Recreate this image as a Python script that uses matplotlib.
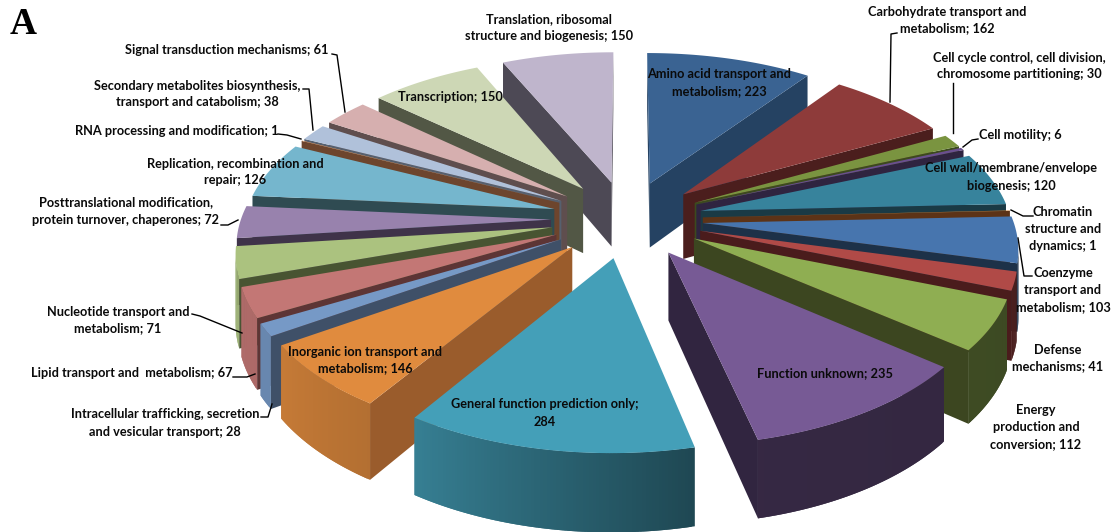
import numpy as np
import matplotlib
matplotlib.use("Agg")
import matplotlib.pyplot as plt
from matplotlib.patches import Polygon

# COG functional categories, clockwise from twelve o'clock
categories = [
    "Amino acid transport and\nmetabolism", "Carbohydrate transport and\nmetabolism",
    "Cell cycle control, cell division,\nchromosome partitioning", "Cell motility",
    "Cell wall/membrane/envelope\nbiogenesis", "Chromatin\nstructure and\ndynamics",
    "Coenzyme\ntransport and\nmetabolism", "Defense\nmechanisms",
    "Energy\nproduction and\nconversion", "Function unknown",
    "General function prediction only;\n", "Inorganic ion transport and\nmetabolism",
    "Intracellular trafficking, secretion\nand vesicular transport", "Lipid transport and  metabolism",
    "Nucleotide transport and\nmetabolism", "Posttranslational modification,\nprotein turnover, chaperones",
    "Replication, recombination and\nrepair", "RNA processing and modification",
    "Secondary metabolites biosynthesis,\ntransport and catabolism", "Signal transduction mechanisms",
    "Transcription", "Translation, ribosomal\nstructure and biogenesis",
]
counts = [223, 162, 30, 6, 120, 1, 103, 41, 112, 235, 284,
          146, 28, 67, 71, 72, 126, 1, 38, 61, 150, 150]

top_colors = ["#3A6392", "#8E3B3A", "#7A9440", "#6A4F8F", "#37839C", "#D87F2F",
              "#4775AE", "#B04A47", "#8FAE52", "#775A95", "#449FB8",
              "#E08B3E", "#7699C6", "#C37775", "#ABC27F", "#9882AD", "#75B6CD",
              "#F0A060", "#B0C1DA", "#D6AFAF", "#CDD7B5", "#BFB5CC"]
side_colors = ["#254262", "#4B1E1D", "#3C4A1E", "#2F2440", "#1A3A45", "#5C3317",
               "#1D3148", "#4A1C1C", "#3C4620", "#312540", "#387E92",
               "#9A5C2C", "#3F5068", "#5D3535", "#485432", "#3F3349", "#2F4B52",
               "#6D452D", "#56606F", "#5F4E4E", "#525745", "#4D4955"]

# label centres in figure pixels, one entry per category
label_xy = [(719, 83), (947, 20), (1019, 66), (1020, 135), (1011, 177), (1063, 229),
            (1063, 290), (1058, 358), (1036, 427), (825, 373), (545, 413),
            (365, 360), (165, 423), (132, 373), (118, 320), (126, 211), (235, 172),
            (177, 131), (197, 94), (227, 50), (450, 97), (549, 28)]

# callout lines from outlying labels to their slices
leaders = [
    [(897, 33), (891, 34), (890, 102)],
    [(953, 83), (953, 133)],
    [(978, 139), (972, 140), (963, 147)],
    [(1011, 210), (1023, 216), (1033, 216)],
    [(1018, 238), (1024, 276), (1032, 276)],
    [(332, 54), (337, 55), (345, 112)],
    [(303, 89), (309, 89), (313, 130)],
    [(278, 134), (287, 135), (301, 139)],
    [(221, 225), (228, 225), (238, 220)],
    [(192, 314), (200, 316), (242, 333)],
    [(233, 377), (247, 377), (255, 374)],
    [(261, 417), (268, 417), (272, 404)],
]

# perspective pie parameters (pixels; radius-normalised ground plane)
CX, CY = 627, 219
RX, RY = 310, 157
PERSPECTIVE = 0.135
EXPLODE = 0.245
DEPTH = 66


def project(gx, gy, drop=0.0):
    s = 1.0 / (1.0 + PERSPECTIVE * gy)
    return np.column_stack([CX + RX * gx * s, CY - RY * gy * s + DEPTH * drop * s])


def signed_area(p):
    x, y = p[:, 0], p[:, 1]
    return 0.5 * np.sum(x * np.roll(y, -1) - np.roll(x, -1) * y)


def rim_shade(deg):
    return np.interp(deg, [100, 167, 213, 236, 300], [0.42, 0.45, 0.80, 0.88, 0.95])


def scaled(color, f):
    return tuple(np.clip(np.array(matplotlib.colors.to_rgb(color)) * f, 0, 1))


fig = plt.figure(figsize=(11.16, 5.32), dpi=100)
ax = fig.add_axes([0, 0, 1, 1])
ax.set_xlim(0, 1116)
ax.set_ylim(532, 0)
ax.axis("off")

values = np.asarray(counts, dtype=float)
edges = np.concatenate([[0], np.cumsum(values)]) / values.sum() * 360
mids = 0.5 * (edges[:-1] + edges[1:])


def add_face(poly, color, z):
    ax.add_patch(Polygon(poly, closed=True, facecolor=color, edgecolor="none",
                         linewidth=0, zorder=z))


# back slices are painted first so nearer ones cover them
order = np.argsort(-np.cos(np.radians(mids)))
for rank, i in enumerate(order):
    a0, a1, mid = edges[i], edges[i + 1], mids[i]
    ox = EXPLODE * np.sin(np.radians(mid))
    oy = EXPLODE * np.cos(np.radians(mid))
    th = np.linspace(a0, a1, max(4, int((a1 - a0) * 2)))
    gx = ox + np.sin(np.radians(th))
    gy = oy + np.cos(np.radians(th))
    z = 2 + rank

    tip_t = project(np.array([ox]), np.array([oy]))
    tip_b = project(np.array([ox]), np.array([oy]), 1.0)
    rim_t = project(gx, gy)
    rim_b = project(gx, gy, 1.0)

    # radial walls, kept only when they face the viewer
    wall_a = np.vstack([tip_t, rim_t[:1], rim_b[:1], tip_b])
    wall_b = np.vstack([tip_t, rim_t[-1:], rim_b[-1:], tip_b])
    if signed_area(wall_a) < 0:
        add_face(wall_a, side_colors[i], z)
    if signed_area(wall_b) > 0:
        add_face(wall_b, side_colors[i], z)

    # curved outer wall: overlapping strips hide the seams between shades
    for k in range(len(th) - 1):
        k2 = min(k + 2, len(th) - 1)
        quad = np.vstack([rim_t[k:k2 + 1], rim_b[k:k2 + 1][::-1]])
        if signed_area(quad) < 0:
            add_face(quad, scaled(top_colors[i], rim_shade(0.5 * (th[k] + th[k + 1]))), z)

    add_face(np.vstack([tip_t, rim_t]), top_colors[i], z + 0.5)

for pts in leaders:
    xs, ys = zip(*pts)
    ax.plot(xs, ys, color="black", lw=1.0, zorder=60, solid_joinstyle="round")

for name, n, (x, y) in zip(categories, counts, label_xy):
    sep = "" if name.endswith("\n") else "; "
    ax.text(x, y, f"{name}{sep}{n}", ha="center", va="center", multialignment="center",
            family="Lato", weight="bold", fontsize=9.2, color="#0A0A0A",
            linespacing=1.5, zorder=70)

ax.text(23, 24, "A", ha="center", va="center", family="Liberation Serif",
        weight="bold", fontsize=27, color="black", zorder=70)

fig.savefig("out.png", dpi=100, facecolor="white")
